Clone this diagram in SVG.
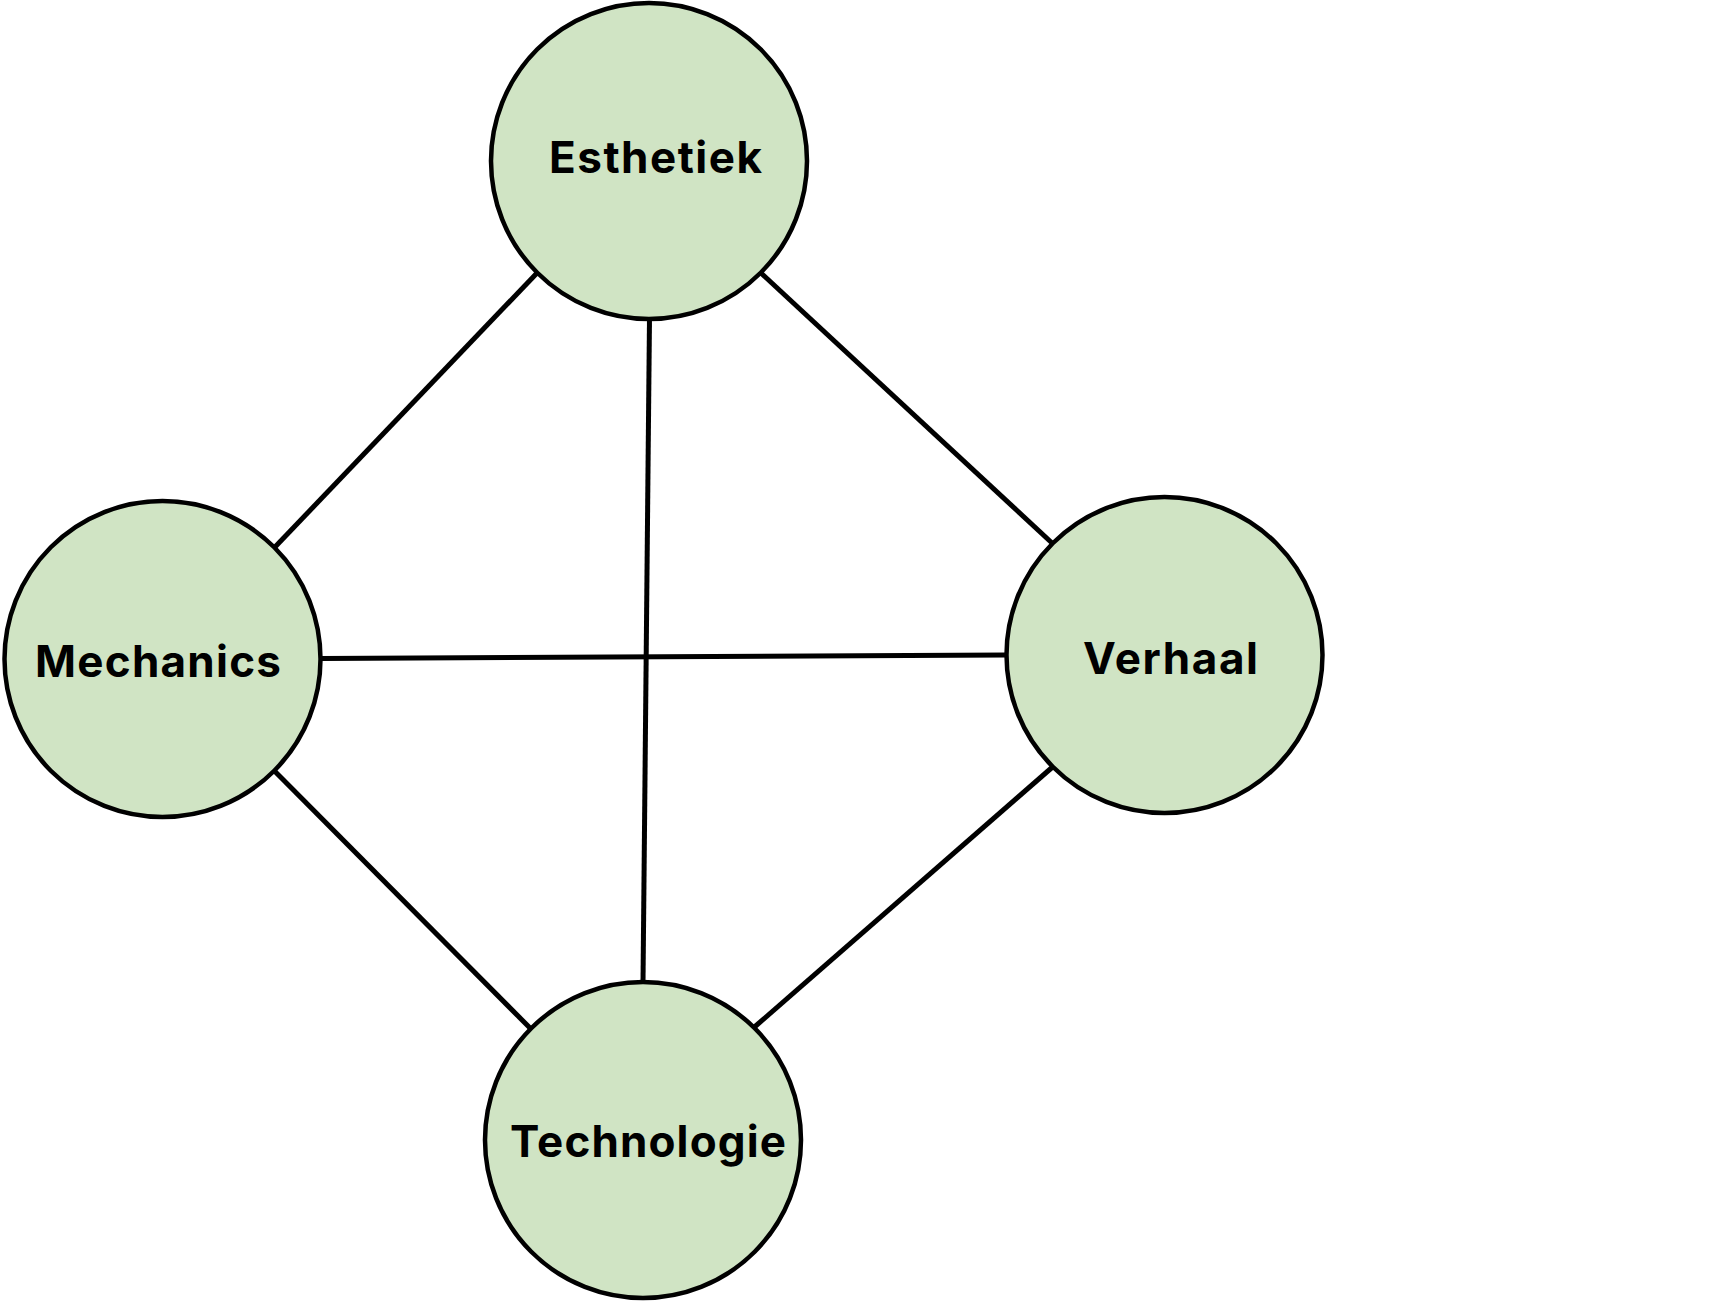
<svg xmlns="http://www.w3.org/2000/svg" width="1709" height="1301" viewBox="0 0 1709 1301">
<style>
.node circle{fill:#d0e4c4;stroke:#000;stroke-width:4.5}
.node text{font-family:Inter,"Liberation Sans",Arial,sans-serif;font-weight:bold;font-size:44px;fill:#000}
.edges line{stroke:#000;stroke-width:5}
</style>
<rect width="1709" height="1301" fill="#fff"/>
<g id="connectors" class="edges">
<line x1="537" y1="273" x2="275" y2="547"/>
<line x1="761" y1="273" x2="1052" y2="543"/>
<line x1="649.5" y1="318" x2="643" y2="982"/>
<line x1="322" y1="658.5" x2="1006" y2="655"/>
<line x1="275" y1="771.5" x2="530" y2="1028"/>
<line x1="1052" y1="767.5" x2="754.5" y2="1027"/>
</g>
<g id="node-esthetiek" class="node">
<circle cx="649" cy="161" r="158"/>
<text x="549" y="173" textLength="213" lengthAdjust="spacing">Esthetiek</text>
</g>
<g id="node-mechanics" class="node">
<circle cx="162.5" cy="659" r="158"/>
<text x="35" y="677" textLength="246" lengthAdjust="spacing">Mechanics</text>
</g>
<g id="node-verhaal" class="node">
<circle cx="1164.5" cy="655" r="158"/>
<text x="1083" y="674" textLength="175" lengthAdjust="spacing">Verhaal</text>
</g>
<g id="node-technologie" class="node">
<circle cx="643" cy="1140" r="158"/>
<text x="510" y="1157" textLength="276" lengthAdjust="spacing">Technologie</text>
</g>
</svg>
